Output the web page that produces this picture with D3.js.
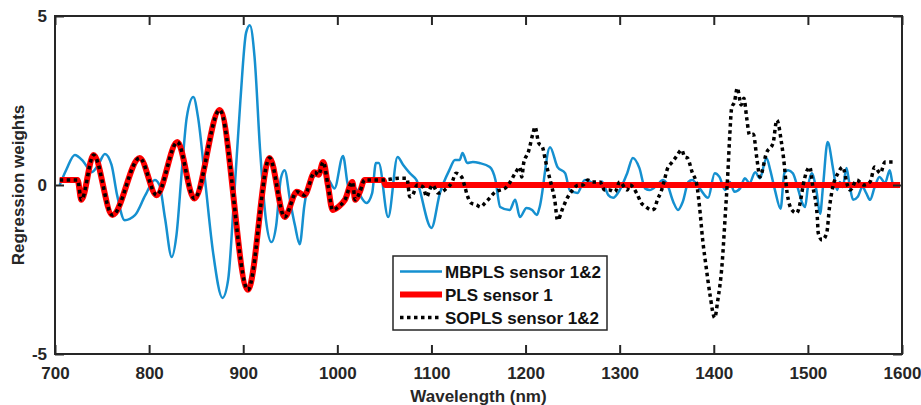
<!DOCTYPE html>
<html>
<head>
<meta charset="utf-8">
<script src="https://cdn.jsdelivr.net/npm/d3@7"></script>
<style>
  body { margin: 0; background: #fff; }
  text { font-family: "Liberation Sans", Arial, sans-serif; font-weight: bold; }
</style>
</head>
<body>
<script>
//Width and height
var w = 921;
var h = 405;

//Tick labels
var xTicks = [700, 800, 900, 1000, 1100, 1200, 1300, 1400, 1500, 1600];
var yTicks = [-5, 0, 5];

//MBPLS sensor 1&2 (blue)
var mbplsWl = [705, 712, 721, 730, 739, 746, 753, 760, 766, 774, 785, 796, 806, 811, 817, 824, 829, 835, 840, 847,
  852, 860, 868, 878, 884, 890, 897, 903, 907, 912, 918, 924, 930, 935, 940, 944, 950, 955, 960, 965,
  970, 978, 985, 992, 997, 1006, 1012, 1017, 1031, 1037, 1041, 1044, 1054, 1064, 1070, 1077, 1084, 1100, 1109, 1119,
  1125, 1130, 1133, 1138, 1144, 1151, 1162, 1168, 1173, 1183, 1189, 1194, 1201, 1207, 1212, 1215, 1226, 1234, 1242, 1247,
  1255, 1263, 1271, 1276, 1281, 1288, 1293, 1300, 1308, 1314, 1321, 1327, 1332, 1340, 1346, 1350, 1357, 1362, 1367, 1373,
  1377, 1385, 1394, 1401, 1406, 1412, 1417, 1422, 1428, 1433, 1438, 1444, 1449, 1456, 1460, 1465, 1471, 1475, 1479, 1484,
  1489, 1494, 1497, 1500, 1504, 1509, 1513, 1516, 1521, 1527, 1531, 1534, 1537, 1541, 1544, 1548, 1553, 1558, 1562, 1566,
  1571, 1576, 1582, 1587, 1590, 1596];
var mbplsW = [0.0, 0.45, 0.89, 0.7, 0.38, 0.6, 0.92, 0.6, -0.3, -1.04, -0.89, -0.3, 0.15, 0.0, -1.0, -2.13, -1.5, 0.5, 2.0, 2.6,
  2.0, 0.0, -2.0, -3.34, -2.8, -0.5, 2.5, 4.5, 4.73, 3.8, 1.0, -1.0, -1.69, -1.2, 0.2, 0.44, -0.5, -1.2, -1.75, -0.6,
  0.1, 0.3, 0.4, 0.1, -0.1, 0.86, -0.05, -0.05, -0.53, -0.24, 0.65, 0.65, -0.95, 0.83, 0.59, 0.35, 0.15, -1.27, -0.24, 0.44,
  0.74, 0.74, 0.95, 0.65, 0.68, 0.65, 0.53, 0.15, -0.65, -0.74, -0.44, -0.95, -0.68, -0.74, -0.89, -0.65, 1.12, 0.53, 0.35, -0.15,
  -0.24, 0.15, 0.06, -0.05, 0.1, -0.3, -0.38, -0.15, 0.35, 0.8, 0.5, -0.1, -0.15, 0.0, 0.15, 0.06, -0.5, -0.74, -0.5, 0.09,
  0.15, -0.1, -0.38, 0.35, 0.24, -0.15, 0.09, -0.2, -0.1, 0.2, 0.06, 0.38, 0.2, 0.8, 0.44, -0.15, -0.7, 0.35, 0.44, 0.35,
  -0.06, -0.53, -0.65, -0.06, 0.35, -0.15, -0.85, -0.06, 1.27, 0.44, -0.15, 0.09, -0.06, 0.5, 0.06, -0.44, -0.35, -0.06, -0.24, -0.44,
  -0.06, 0.24, 0.06, 0.44, 0.06, -0.06];

//PLS sensor 1 (red), below 1050 nm SOPLS follows the same weights
var headWl = [705, 724, 728, 741, 761, 790, 808, 830, 848, 875, 905, 928, 944, 957, 965, 976, 980, 985, 990, 995,
  1001, 1008, 1016, 1019, 1024, 1029, 1049];
var headW = [0.15, 0.15, -0.44, 0.89, -0.89, 0.8, -0.3, 1.27, -0.4, 2.22, -3.1, 0.8, -0.95, -0.2, -0.3, 0.38, 0.3, 0.68, 0.0, -0.74,
  -0.65, -0.44, 0.09, -0.44, -0.2, 0.15, 0.15];
var plsTailWl = [1051, 1598];
var plsTailW = [0, 0];

//SOPLS sensor 1&2 (black dotted) above 1050 nm
var soplsTailWl = [1066, 1074, 1077, 1080, 1085, 1091, 1095, 1098, 1101, 1107, 1116, 1122, 1126, 1132, 1135, 1138, 1142, 1148, 1152, 1157,
  1162, 1168, 1173, 1178, 1183, 1189, 1194, 1196, 1198, 1203, 1208, 1210, 1214, 1218, 1221, 1224, 1228, 1231, 1234, 1240,
  1245, 1250, 1256, 1261, 1266, 1271, 1279, 1284, 1289, 1295, 1300, 1308, 1311, 1318, 1323, 1328, 1334, 1337, 1340, 1344,
  1347, 1351, 1355, 1360, 1366, 1369, 1372, 1377, 1382, 1385, 1388, 1392, 1396, 1401, 1404, 1409, 1412, 1415, 1417, 1419,
  1422, 1425, 1429, 1432, 1435, 1438, 1442, 1446, 1449, 1456, 1463, 1467, 1472, 1474, 1478, 1483, 1488, 1492, 1495, 1502,
  1505, 1510, 1511, 1515, 1520, 1523, 1527, 1532, 1537, 1542, 1545, 1552, 1559, 1566, 1571, 1577, 1582, 1590];
var soplsTailW = [0.2, 0.2, -0.35, -0.3, 0.0, -0.06, -0.35, -0.15, 0.0, -0.24, -0.1, 0.09, 0.35, 0.24, 0.0, -0.3, -0.53, -0.59, -0.65, -0.53,
  -0.38, -0.2, -0.15, -0.1, 0.06, 0.35, 0.53, 0.24, 0.65, 0.98, 1.54, 1.72, 1.24, 1.12, 0.74, 0.38, -0.06, -0.44, -1.04, -0.65,
  -0.35, -0.15, 0.0, 0.0, 0.15, 0.09, 0.09, -0.15, -0.15, -0.2, 0.09, -0.15, 0.0, -0.24, -0.53, -0.65, -0.74, -0.7, -0.44, -0.2,
  0.09, 0.5, 0.65, 0.83, 1.04, 0.83, 0.8, 0.38, 0.0, -0.68, -1.57, -2.45, -3.25, -3.93, -3.46, -2.28, -0.98, 0.38, 1.48, 2.28,
  2.46, 2.87, 2.37, 2.57, 1.98, 1.48, 1.5, 0.74, 0.24, 0.95, 1.24, 1.92, 1.24, 0.83, -0.24, -0.74, -0.83, -0.5, 0.0, 0.53,
  0.0, -0.95, -1.42, -1.63, -1.42, -0.65, 0.0, 0.35, 0.53, 0.0, -0.15, 0.15, 0.0, 0.09, 0.53, 0.35, 0.68, 0.68];

function zipSeries(wl, wt) {
    return wl.map(function(d, i) { return [d, wt[i]]; });
}

var mbpls = zipSeries(mbplsWl, mbplsW);
var pls = zipSeries(headWl.concat(plsTailWl), headW.concat(plsTailW));
var sopls = zipSeries(headWl.concat(soplsTailWl), headW.concat(soplsTailW));

//Plot area edges
var plotLeft = 55, plotRight = 902, plotTop = 16, plotBottom = 354;

//Scales
var x = d3.scaleLinear().domain([700, 1600]).range([plotLeft, plotRight]);
var y = d3.scaleLinear().domain([-5, 5]).range([plotBottom, plotTop]);

var svg = d3.select("body")
            .append("svg")
            .attr("width", w)
            .attr("height", h);

var line = d3.line()
    .x(function(d) { return x(d[0]); })
    .y(function(d) { return y(d[1]); })
    .curve(d3.curveMonotoneX);

var axisColor = "#262626";

//Series
svg.append("path")
   .datum(mbpls)
   .attr("d", line)
   .attr("fill", "none")
   .attr("stroke", "#1590d0")
   .attr("stroke-width", 2.5);

svg.append("path")
   .datum(pls)
   .attr("d", line)
   .attr("fill", "none")
   .attr("stroke", "#ff0000")
   .attr("stroke-width", 6);

svg.append("path")
   .datum(sopls)
   .attr("d", line)
   .attr("fill", "none")
   .attr("stroke", "#000")
   .attr("stroke-width", 3.5)
   .attr("stroke-dasharray", "3.5,3.5");

//Axes (ticks point inward), plain hyphen for negatives like MATLAB
var plainFormat = function(d) { return String(d); };

function styleAxis(g) {
    g.select(".domain").remove();
    g.selectAll(".tick line").attr("stroke", axisColor).attr("stroke-width", 2);
    g.selectAll("text")
     .attr("fill", axisColor)
     .style("font-size", "17px");
}

svg.append("g")
   .attr("transform", "translate(0," + plotBottom + ")")
   .call(d3.axisBottom(x).tickValues(xTicks).tickSize(-9).tickPadding(13).tickFormat(plainFormat))
   .call(styleAxis);

svg.append("g")
   .attr("transform", "translate(0," + plotTop + ")")
   .call(d3.axisTop(x).tickValues(xTicks).tickSize(-9).tickFormat(""))
   .call(styleAxis);

svg.append("g")
   .attr("transform", "translate(" + plotLeft + ",0)")
   .call(d3.axisLeft(y).tickValues(yTicks).tickSize(-9).tickPadding(8).tickFormat(plainFormat))
   .call(styleAxis);

svg.append("g")
   .attr("transform", "translate(" + plotRight + ",0)")
   .call(d3.axisRight(y).tickValues(yTicks).tickSize(-9).tickFormat(""))
   .call(styleAxis);

//Box
svg.append("rect")
   .attr("x", plotLeft)
   .attr("y", plotTop)
   .attr("width", plotRight - plotLeft)
   .attr("height", plotBottom - plotTop)
   .attr("fill", "none")
   .attr("stroke", axisColor)
   .attr("stroke-width", 2);

//Axis titles
svg.append("text")
   .attr("x", (plotLeft + plotRight) / 2)
   .attr("y", 402)
   .attr("text-anchor", "middle")
   .attr("fill", axisColor)
   .style("font-size", "17px")
   .text("Wavelength (nm)");

svg.append("text")
   .attr("transform", "translate(24," + ((plotTop + plotBottom) / 2) + ") rotate(-90)")
   .attr("text-anchor", "middle")
   .attr("fill", axisColor)
   .style("font-size", "17px")
   .text("Regression weights");

//Legend
var legendItems = [
    {name: "MBPLS sensor 1&2", color: "#1590d0", width: 2.5, dash: null},
    {name: "PLS sensor 1", color: "#ff0000", width: 6, dash: null},
    {name: "SOPLS sensor 1&2", color: "#000", width: 3.5, dash: "3.5,3.5"}
];

var legend = svg.append("g").attr("class", "legend");

legend.append("rect")
   .attr("x", 393)
   .attr("y", 256)
   .attr("width", 214)
   .attr("height", 74)
   .attr("fill", "#fff")
   .attr("stroke", axisColor)
   .attr("stroke-width", 1.5);

var rows = legend.selectAll("g.row")
   .data(legendItems)
   .enter()
   .append("g")
   .attr("class", "row")
   .attr("transform", function(d, i) { return "translate(0," + (271.5 + i * 23) + ")"; });

rows.append("line")
   .attr("x1", 400)
   .attr("x2", 442)
   .attr("stroke", function(d) { return d.color; })
   .attr("stroke-width", function(d) { return d.width; })
   .attr("stroke-dasharray", function(d) { return d.dash; });

rows.append("text")
   .attr("x", 445)
   .attr("y", 6)
   .attr("fill", "#111")
   .style("font-size", "17px")
   .text(function(d) { return d.name; });
</script>
</body>
</html>
